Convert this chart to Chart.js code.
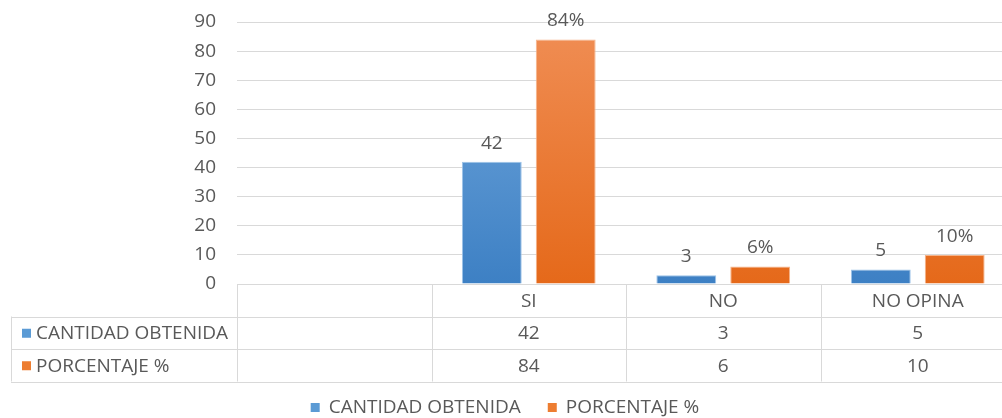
<!DOCTYPE html>
<html>
<head>
<meta charset="utf-8">
<script src="https://cdn.jsdelivr.net/npm/chart.js@4/dist/chart.umd.min.js"></script>
<style>
  html, body { margin: 0; padding: 0; background: #fff; overflow: hidden; }
  #wrap { width: 1020px; height: 418px; }
</style>
</head>
<body>
<div id="wrap"><canvas id="chart" width="1020" height="418"></canvas></div>
<script>
// categories (first column is left empty in the original)
const categories = ['', 'SI', 'NO', 'NO OPINA'];
const cantidad = [null, 42, 3, 5];
const porcentaje = [null, 84, 6, 10];
const yTicks = [0, 10, 20, 30, 40, 50, 60, 70, 80, 90];

const textColor = '#595959';
const lineColor = '#d9d9d9';
const fontFamily = "'Open Sans', 'Liberation Sans', sans-serif";
const fontSize = 19;

function gradient(ctx, top, bottom) {
  const area = ctx.chart.chartArea;
  if (!area) return bottom;
  const g = ctx.chart.ctx.createLinearGradient(0, area.top, 0, area.bottom);
  g.addColorStop(0, top);
  g.addColorStop(1, bottom);
  return g;
}

// value labels above bars
const labelsPlugin = {
  id: 'barLabels',
  afterDatasetsDraw(chart) {
    const c = chart.ctx;
    c.save();
    c.font = fontSize + 'px ' + fontFamily;
    c.fillStyle = textColor;
    c.textAlign = 'center';
    c.textBaseline = 'bottom';
    chart.data.datasets.forEach((ds, i) => {
      chart.getDatasetMeta(i).data.forEach((bar, j) => {
        if (ds.data[j] == null) return;
        const txt = i === 1 ? ds.data[j] + '%' : String(ds.data[j]);
        c.fillText(txt, bar.x, bar.y - 9);
      });
    });
    c.restore();
  }
};

// data table under the plot + legend
const tablePlugin = {
  id: 'dataTable',
  afterDraw(chart) {
    const c = chart.ctx;
    const x = chart.scales.x;
    const area = chart.chartArea;
    const colW = x.width / categories.length;
    const rowH = 32.5;
    const top = area.bottom;
    const leftEdge = 11;
    c.save();
    c.strokeStyle = lineColor;
    c.lineWidth = 1;
    // horizontal lines
    c.beginPath();
    c.moveTo(area.left, top + 0.5); c.lineTo(area.right, top + 0.5);
    for (let r = 1; r <= 3; r++) {
      const y = Math.round(top + r * rowH) + 0.5;
      c.moveTo(leftEdge, y); c.lineTo(area.right, y);
    }
    // vertical lines
    for (let k = 0; k <= categories.length; k++) {
      const vx = Math.round(area.left + k * colW) + 0.5;
      c.moveTo(vx, top); c.lineTo(vx, top + 3 * rowH);
    }
    c.moveTo(leftEdge + 0.5, top + rowH); c.lineTo(leftEdge + 0.5, top + 3 * rowH);
    c.stroke();

    c.font = fontSize + 'px ' + fontFamily;
    c.fillStyle = textColor;
    c.textBaseline = 'middle';
    c.textAlign = 'center';
    categories.forEach((cat, k) => {
      const cx = x.getPixelForValue(k);
      c.fillText(cat, cx, top + rowH / 2 + 1);
    });
    chart.data.datasets.forEach((ds, i) => {
      const yMid = top + (i + 1.5) * rowH + 1;
      ds.data.forEach((v, k) => {
        if (v == null) return;
        c.textAlign = 'center';
        c.fillStyle = textColor;
        c.fillText(String(v), x.getPixelForValue(k), yMid);
      });
      c.fillStyle = ds.legendColor;
      c.fillRect(leftEdge + 11, yMid - 5, 9, 9);
      c.fillStyle = textColor;
      c.textAlign = 'left';
      c.fillText(ds.label, leftEdge + 25, yMid);
    });

    // legend
    const ly = 408;
    const gap = 27;
    const widths = chart.data.datasets.map(ds => 18 + c.measureText(ds.label).width);
    const total = widths.reduce((a, b) => a + b, 0) + gap;
    let lx = 505 - total / 2;
    chart.data.datasets.forEach((ds, i) => {
      c.fillStyle = ds.legendColor;
      c.fillRect(lx, ly - 5, 9, 9);
      c.fillStyle = textColor;
      c.textAlign = 'left';
      c.fillText(ds.label, lx + 18, ly);
      lx += widths[i] + gap;
    });
    c.restore();
  }
};

new Chart(document.getElementById('chart'), {
  type: 'bar',
  data: {
    labels: categories,
    datasets: [
      {
        label: 'CANTIDAD OBTENIDA',
        data: cantidad,
        legendColor: '#5b9bd5',
        backgroundColor: ctx => gradient(ctx, '#74a9dd', '#3d80c4'),
        borderColor: '#9cc3e8',
        borderWidth: 1
      },
      {
        label: 'PORCENTAJE %',
        data: porcentaje,
        legendColor: '#ed7d31',
        backgroundColor: ctx => gradient(ctx, '#f08e55', '#e5691a'),
        borderColor: '#f6b48a',
        borderWidth: 1
      }
    ]
  },
  options: {
    responsive: false,
    animation: false,
    devicePixelRatio: 1,
    categoryPercentage: 0.76,
    barPercentage: 0.81,
    layout: { padding: { top: 22, bottom: 134, right: 5, left: 0 } },
    plugins: {
      legend: { display: false },
      tooltip: { enabled: false }
    },
    scales: {
      x: { display: false },
      y: {
        min: 0,
        max: 90,
        afterBuildTicks: s => { s.ticks = yTicks.map(v => ({ value: v })); },
        afterFit: s => { s.width = 237; s.paddingTop = 0; s.paddingBottom = 0; },
        border: { display: false },
        grid: { color: lineColor, drawTicks: false },
        ticks: {
          color: textColor,
          padding: 21,
          font: { size: fontSize, family: fontFamily }
        }
      }
    }
  },
  plugins: [labelsPlugin, tablePlugin]
});
</script>
</body>
</html>
